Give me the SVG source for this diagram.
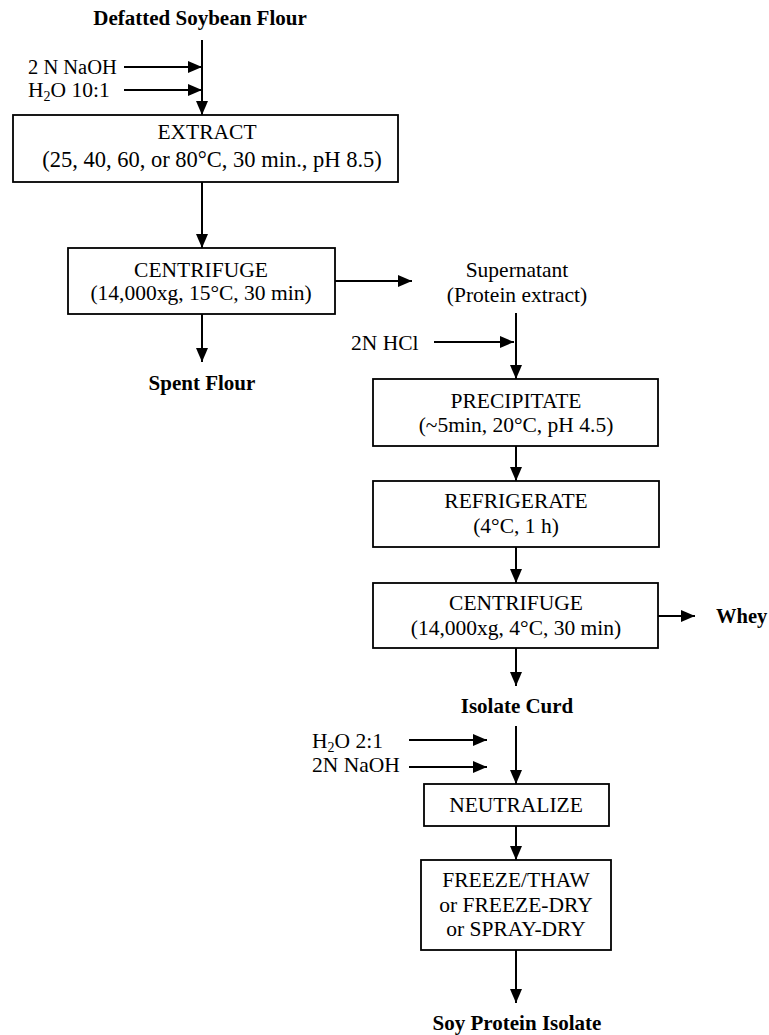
<svg xmlns="http://www.w3.org/2000/svg" width="769" height="1035" viewBox="0 0 769 1035">
<style>
text{font-family:"Liberation Serif","Times New Roman",serif;font-size:21.5px;fill:#000}
.b{font-weight:bold;font-size:21px}
.m{text-anchor:middle}
.box{fill:#fff;stroke:#000;stroke-width:1.8}
.ln{stroke:#000;stroke-width:2;fill:none}
.sub{font-size:14px}
</style>
<defs>
<marker id="ah" viewBox="0 0 14 12" refX="14" refY="6" markerWidth="14" markerHeight="12" markerUnits="userSpaceOnUse" orient="auto">
<path d="M0,0 L14,6 L0,12 Z" fill="#000"/>
</marker>
</defs>
<rect width="769" height="1035" fill="#fff"/>
<g id="connectors">
<line class="ln" x1="202" y1="40" x2="202" y2="115" marker-end="url(#ah)"/>
<line class="ln" x1="124" y1="67" x2="202" y2="67" marker-end="url(#ah)"/>
<line class="ln" x1="124" y1="90" x2="202" y2="90" marker-end="url(#ah)"/>
<line class="ln" x1="202" y1="182" x2="202" y2="248" marker-end="url(#ah)"/>
<line class="ln" x1="335" y1="281" x2="412" y2="281" marker-end="url(#ah)"/>
<line class="ln" x1="202" y1="314" x2="202" y2="362" marker-end="url(#ah)"/>
<line class="ln" x1="516" y1="313" x2="516" y2="379" marker-end="url(#ah)"/>
<line class="ln" x1="434" y1="342" x2="514" y2="342" marker-end="url(#ah)"/>
<line class="ln" x1="516" y1="446" x2="516" y2="481" marker-end="url(#ah)"/>
<line class="ln" x1="516" y1="547" x2="516" y2="583" marker-end="url(#ah)"/>
<line class="ln" x1="658" y1="616" x2="695" y2="616" marker-end="url(#ah)"/>
<line class="ln" x1="516" y1="648" x2="516" y2="686" marker-end="url(#ah)"/>
<line class="ln" x1="516" y1="726" x2="516" y2="784" marker-end="url(#ah)"/>
<line class="ln" x1="409" y1="740" x2="487" y2="740" marker-end="url(#ah)"/>
<line class="ln" x1="409" y1="767" x2="487" y2="767" marker-end="url(#ah)"/>
<line class="ln" x1="516" y1="826" x2="516" y2="860" marker-end="url(#ah)"/>
<line class="ln" x1="516" y1="950" x2="516" y2="1003" marker-end="url(#ah)"/>
</g>
<g id="n-flour"><text class="b m" x="200" y="25">Defatted Soybean Flour</text></g>
<g id="n-naoh"><text x="28" y="74" style="font-size:20.5px">2 N NaOH</text></g>
<g id="n-h2o"><text x="28" y="97">H<tspan class="sub" dy="4">2</tspan><tspan dy="-4">O 10:1</tspan></text></g>
<g id="n-extract">
<rect class="box" x="13" y="115" width="385" height="67"/>
<text class="m" x="207" y="139">EXTRACT</text>
<text class="m" x="212" y="167" style="font-size:22.5px">(25, 40, 60, or 80°C, 30 min., pH 8.5)</text>
</g>
<g id="n-centrifuge1">
<rect class="box" x="68" y="248" width="267" height="66"/>
<text class="m" x="201" y="277">CENTRIFUGE</text>
<text class="m" x="201" y="300">(14,000xg, 15°C, 30 min)</text>
</g>
<g id="n-spent"><text class="b m" x="202" y="390">Spent Flour</text></g>
<g id="n-super">
<text class="m" x="517" y="277">Supernatant</text>
<text class="m" x="517" y="302">(Protein extract)</text>
</g>
<g id="n-hcl"><text x="351" y="350">2N HCl</text></g>
<g id="n-precipitate">
<rect class="box" x="373" y="379" width="285" height="67"/>
<text class="m" x="516" y="408">PRECIPITATE</text>
<text class="m" x="516" y="432">(~5min, 20°C, pH 4.5)</text>
</g>
<g id="n-refrigerate">
<rect class="box" x="373" y="481" width="286" height="66"/>
<text class="m" x="516" y="508">REFRIGERATE</text>
<text class="m" x="516" y="533">(4°C, 1 h)</text>
</g>
<g id="n-centrifuge2">
<rect class="box" x="373" y="583" width="285" height="65"/>
<text class="m" x="516" y="610">CENTRIFUGE</text>
<text class="m" x="516" y="635">(14,000xg, 4°C, 30 min)</text>
</g>
<g id="n-whey"><text class="b" x="716" y="623" style="font-size:20.5px">Whey</text></g>
<g id="n-curd"><text class="b m" x="517" y="713">Isolate Curd</text></g>
<g id="n-h2o2"><text x="312" y="748">H<tspan class="sub" dy="4">2</tspan><tspan dy="-4">O 2:1</tspan></text></g>
<g id="n-naoh2"><text x="312" y="772">2N NaOH</text></g>
<g id="n-neutralize">
<rect class="box" x="424" y="784" width="185" height="42"/>
<text class="m" x="516" y="812">NEUTRALIZE</text>
</g>
<g id="n-dry">
<rect class="box" x="421" y="860" width="190" height="90"/>
<text class="m" x="516" y="887">FREEZE/THAW</text>
<text class="m" x="516" y="912">or FREEZE-DRY</text>
<text class="m" x="516" y="936">or SPRAY-DRY</text>
</g>
<g id="n-spi"><text class="b m" x="517" y="1030">Soy Protein Isolate</text></g>
</svg>
